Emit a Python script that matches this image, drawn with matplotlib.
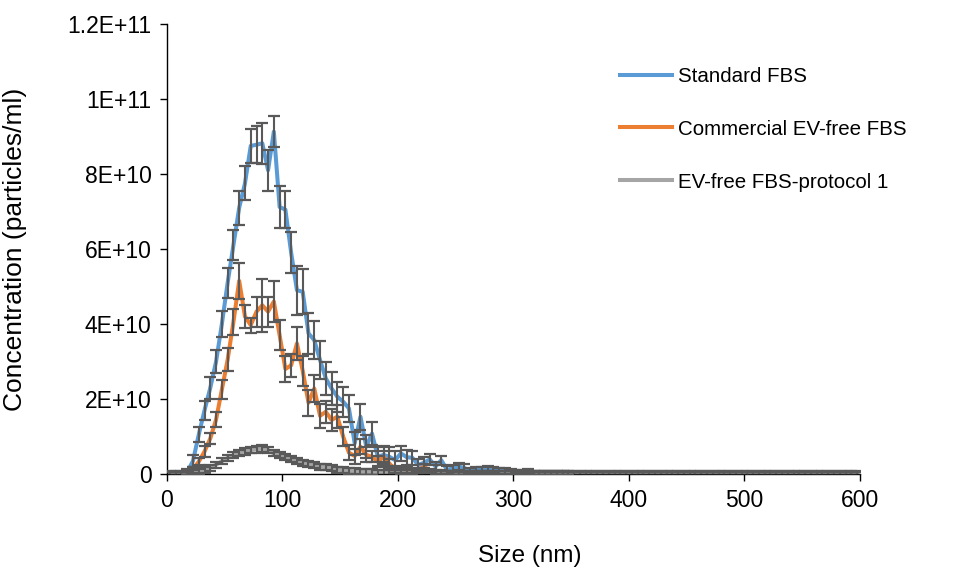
import numpy as np
import matplotlib
matplotlib.use("Agg")
import matplotlib.pyplot as plt

plt.rcParams['font.family'] = ['Liberation Sans', 'DejaVu Sans']

# particle size bins (nm), 5 nm wide
size_nm = np.arange(2.5, 600, 5)

# concentrations in units of 1E+10 particles/ml
standard_fbs = [
    0.0, 0.0, 0.0, 0.05, 0.35, 1.05, 1.7, 2.3, 3.0, 4.0,
    5.1, 6.1, 7.1, 7.75, 8.75, 8.78, 8.82, 8.1, 9.13, 7.12,
    7.05, 5.9, 4.9, 4.86, 3.75, 3.57, 3.04, 2.55, 2.28, 2.06,
    1.93, 1.75, 0.82, 1.53, 0.73, 1.08, 0.46, 0.51, 0.46, 0.37,
    0.55, 0.45, 0.43, 0.24, 0.3, 0.39, 0.2, 0.37, 0.11, 0.15,
    0.2, 0.16, 0.07, 0.1, 0.12, 0.13, 0.1, 0.09, 0.08, 0.07,
    0.05, 0.04, 0.07, 0.03, 0.03, 0.02, 0.02, 0.02, 0.02, 0.02,
    0.01, 0.01, 0.01, 0.01, 0.01, 0.01, 0.01, 0.01, 0.01, 0.01,
    0.01, 0.01, 0.01, 0.01, 0.01, 0.01, 0.01, 0.01, 0.01, 0.01,
    0.01, 0.01, 0.01, 0.01, 0.01, 0.01, 0.01, 0.01, 0.01, 0.01,
    0.01, 0.01, 0.01, 0.01, 0.01, 0.01, 0.01, 0.01, 0.01, 0.01,
    0.01, 0.01, 0.01, 0.01, 0.01, 0.01, 0.01, 0.01, 0.01, 0.01,
]
standard_err = [
    0.05, 0.05, 0.05, 0.08, 0.15, 0.2, 0.25, 0.3, 0.3, 0.35,
    0.4, 0.4, 0.45, 0.45, 0.45, 0.5, 0.55, 0.55, 0.42, 0.55,
    0.5, 0.55, 0.65, 0.6, 0.55, 0.5, 0.5, 0.45, 0.45, 0.4,
    0.4, 0.35, 0.3, 0.35, 0.3, 0.3, 0.25, 0.25, 0.25, 0.25,
    0.2, 0.2, 0.18, 0.15, 0.15, 0.15, 0.12, 0.12, 0.1, 0.1,
    0.1, 0.1, 0.08, 0.08, 0.08, 0.08, 0.08, 0.08, 0.07, 0.07,
    0.06, 0.06, 0.06, 0.05, 0.05, 0.05, 0.05, 0.05, 0.05, 0.05,
    0.05, 0.05, 0.05, 0.05, 0.05, 0.05, 0.05, 0.05, 0.05, 0.05,
    0.05, 0.05, 0.05, 0.05, 0.05, 0.05, 0.05, 0.05, 0.05, 0.05,
    0.05, 0.05, 0.05, 0.05, 0.05, 0.05, 0.05, 0.05, 0.05, 0.05,
    0.05, 0.05, 0.05, 0.05, 0.05, 0.05, 0.05, 0.05, 0.05, 0.05,
    0.05, 0.05, 0.05, 0.05, 0.05, 0.05, 0.05, 0.05, 0.05, 0.05,
]
commercial_fbs = [
    0.0, 0.0, 0.0, 0.0, 0.12, 0.33, 0.6, 0.95, 1.45, 2.25,
    3.05, 4.05, 5.15, 4.2, 3.97, 4.33, 4.5, 4.33, 4.6, 3.7,
    2.8, 2.9, 3.48, 2.75, 1.9, 2.28, 1.55, 1.66, 1.44, 1.53,
    1.0, 0.57, 0.48, 0.73, 0.51, 0.46, 0.33, 0.46, 0.28, 0.12,
    0.08, 0.1, 0.06, 0.1, 0.2, 0.08, 0.05, 0.06, 0.04, 0.03,
    0.03, 0.03, 0.02, 0.02, 0.02, 0.02, 0.02, 0.02, 0.02, 0.02,
    0.01, 0.01, 0.01, 0.01, 0.01, 0.01, 0.01, 0.01, 0.01, 0.01,
    0.01, 0.01, 0.01, 0.01, 0.01, 0.01, 0.01, 0.01, 0.01, 0.01,
    0.01, 0.01, 0.01, 0.01, 0.01, 0.01, 0.01, 0.01, 0.01, 0.01,
    0.01, 0.01, 0.01, 0.01, 0.01, 0.01, 0.01, 0.01, 0.01, 0.01,
    0.01, 0.01, 0.01, 0.01, 0.01, 0.01, 0.01, 0.01, 0.01, 0.01,
    0.01, 0.01, 0.01, 0.01, 0.01, 0.01, 0.01, 0.01, 0.01, 0.01,
]
commercial_err = [
    0.05, 0.05, 0.05, 0.05, 0.08, 0.1, 0.15, 0.15, 0.2, 0.25,
    0.3, 0.35, 0.47, 0.3, 0.2, 0.4, 0.7, 0.4, 0.55, 0.4,
    0.35, 0.3, 0.45, 0.4, 0.35, 0.35, 0.33, 0.3, 0.3, 0.3,
    0.25, 0.2, 0.2, 0.2, 0.2, 0.15, 0.15, 0.15, 0.12, 0.1,
    0.08, 0.08, 0.07, 0.07, 0.08, 0.06, 0.05, 0.05, 0.05, 0.05,
    0.05, 0.05, 0.05, 0.05, 0.05, 0.05, 0.05, 0.05, 0.05, 0.05,
    0.05, 0.05, 0.05, 0.05, 0.05, 0.05, 0.05, 0.05, 0.05, 0.05,
    0.05, 0.05, 0.05, 0.05, 0.05, 0.05, 0.05, 0.05, 0.05, 0.05,
    0.05, 0.05, 0.05, 0.05, 0.05, 0.05, 0.05, 0.05, 0.05, 0.05,
    0.05, 0.05, 0.05, 0.05, 0.05, 0.05, 0.05, 0.05, 0.05, 0.05,
    0.05, 0.05, 0.05, 0.05, 0.05, 0.05, 0.05, 0.05, 0.05, 0.05,
    0.05, 0.05, 0.05, 0.05, 0.05, 0.05, 0.05, 0.05, 0.05, 0.05,
]
protocol1_fbs = [
    0.0, 0.0, 0.0, 0.01, 0.03, 0.06, 0.1, 0.17, 0.25, 0.34,
    0.43, 0.5, 0.56, 0.61, 0.64, 0.66, 0.68, 0.64, 0.55, 0.5,
    0.45, 0.4, 0.36, 0.3, 0.27, 0.24, 0.2, 0.18, 0.15, 0.12,
    0.1, 0.08, 0.07, 0.06, 0.05, 0.05, 0.04, 0.04, 0.03, 0.03,
    0.03, 0.02, 0.02, 0.02, 0.02, 0.01, 0.01, 0.01, 0.01, 0.01,
    0.0, 0.0, 0.0, 0.0, 0.0, 0.0, 0.0, 0.0, 0.0, 0.0,
    0.0, 0.0, 0.0, 0.0, 0.0, 0.0, 0.0, 0.0, 0.0, 0.0,
    0.0, 0.0, 0.0, 0.0, 0.0, 0.0, 0.0, 0.0, 0.0, 0.0,
    0.0, 0.0, 0.0, 0.0, 0.0, 0.0, 0.0, 0.0, 0.0, 0.0,
    0.0, 0.0, 0.0, 0.0, 0.0, 0.0, 0.0, 0.0, 0.0, 0.0,
    0.0, 0.0, 0.0, 0.0, 0.0, 0.0, 0.0, 0.0, 0.0, 0.0,
    0.0, 0.0, 0.0, 0.0, 0.0, 0.0, 0.0, 0.0, 0.0, 0.0,
]
protocol1_err = [
    0.08, 0.08, 0.08, 0.08, 0.08, 0.08, 0.08, 0.08, 0.08, 0.08,
    0.08, 0.08, 0.08, 0.09, 0.09, 0.1, 0.1, 0.09, 0.08, 0.08,
    0.08, 0.08, 0.08, 0.08, 0.08, 0.08, 0.08, 0.08, 0.08, 0.08,
    0.08, 0.08, 0.08, 0.08, 0.08, 0.08, 0.08, 0.08, 0.08, 0.08,
    0.08, 0.08, 0.08, 0.08, 0.08, 0.08, 0.08, 0.08, 0.08, 0.08,
    0.08, 0.08, 0.08, 0.08, 0.08, 0.08, 0.08, 0.08, 0.08, 0.08,
    0.08, 0.08, 0.08, 0.08, 0.08, 0.08, 0.08, 0.08, 0.08, 0.08,
    0.08, 0.08, 0.08, 0.08, 0.08, 0.08, 0.08, 0.08, 0.08, 0.08,
    0.08, 0.08, 0.08, 0.08, 0.08, 0.08, 0.08, 0.08, 0.08, 0.08,
    0.08, 0.08, 0.08, 0.08, 0.08, 0.08, 0.08, 0.08, 0.08, 0.08,
    0.08, 0.08, 0.08, 0.08, 0.08, 0.08, 0.08, 0.08, 0.08, 0.08,
    0.08, 0.08, 0.08, 0.08, 0.08, 0.08, 0.08, 0.08, 0.08, 0.08,
]

series_names = ['Standard FBS', 'Commercial EV-free FBS', 'EV-free FBS-protocol 1']
series_colors = ['#5B9BD5', '#ED7D31', '#A5A5A5']

y_ticks = [0, 2e10, 4e10, 6e10, 8e10, 1e11, 1.2e11]
y_tick_labels = ['0', '2E+10', '4E+10', '6E+10', '8E+10', '1E+11', '1.2E+11']
x_ticks = [0, 100, 200, 300, 400, 500, 600]

fig = plt.figure(figsize=(9.54, 5.72), dpi=100)
ax = fig.add_axes([167 / 954, 98 / 572, 693 / 954, 450 / 572])

all_values = [standard_fbs, commercial_fbs, protocol1_fbs]
all_errors = [standard_err, commercial_err, protocol1_err]
for vals, errs, name, color in zip(all_values, all_errors, series_names, series_colors):
    vals = np.array(vals) * 1e10
    errs = np.array(errs) * 1e10
    ax.plot(size_nm, vals, color=color, lw=2.9, label=name, zorder=2,
            solid_joinstyle='round')
    ax.errorbar(size_nm, vals, yerr=errs, fmt='none', ecolor='#595959',
                elinewidth=1.5, capsize=4.5, capthick=1.6, zorder=3)

ax.set_xlim(0, 600)
ax.set_ylim(0, 1.2e11)
ax.set_xticks(x_ticks)
ax.set_yticks(y_ticks)
ax.set_yticklabels(y_tick_labels)
ax.tick_params(axis='both', labelsize=16.5, length=5, width=1, color='black',
               direction='out', pad=6)
for side in ['top', 'right']:
    ax.spines[side].set_visible(False)
for side in ['left', 'bottom']:
    ax.spines[side].set_linewidth(1)
    ax.spines[side].set_color('black')

ax.set_xlabel('Size (nm)', fontsize=17.5)
ax.xaxis.set_label_coords(0.524, -0.158)
ax.set_ylabel('Concentration (particles/ml)', fontsize=19)
ax.yaxis.set_label_coords(-0.202, 0.5)

ax.legend(loc='upper left', bbox_to_anchor=(0.654, 0.905), frameon=False,
          fontsize=14.8, handlelength=2.5, handletextpad=0.3,
          labelspacing=1.65, borderpad=0, borderaxespad=0)

fig.savefig('out.png', dpi=100)
